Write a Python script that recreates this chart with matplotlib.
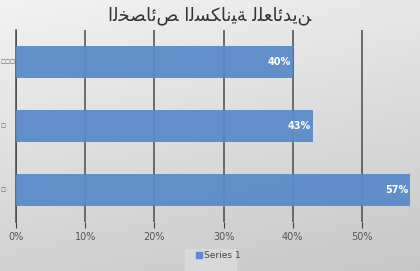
import numpy as np
import matplotlib.pyplot as plt
import matplotlib.transforms as mtransforms

# data
categories = ['\u25a1', '\u25a1', '\u25a1\u25a1\u25a1']   # bottom -> top (glyphs missing in source)
values = [0.57, 0.43, 0.40]
value_labels = ['57%', '43%', '40%']
xticks = [0, 0.1, 0.2, 0.3, 0.4, 0.5]
xtick_labels = ['0%', '10%', '20%', '30%', '40%', '50%']

# title: "الخصائص السكانية للعائدين" as shaped glyphs, drawn left-to-right like the source
title = ('\ufe8d\ufedf\ufea8\ufebc\ufe8e\ufe8b\ufeba '
         '\ufe8d\ufedf\ufeb4\ufedc\ufe8e\ufee7\ufef4\ufe94 '
         '\ufedf\ufee0\ufecc\ufe8e\ufe8b\ufeaa\ufef3\ufee6')

W, H = 420, 271
fig = plt.figure(figsize=(W / 100, H / 100), dpi=100)

# gradient background
bg = fig.add_axes([0, 0, 1, 1], zorder=-10)
yy, xx = np.mgrid[0:1:200j, 0:1:300j]
g = 0.95 - 0.17 * (0.75 * yy + 0.25 * xx)
bg.imshow(np.dstack([g, g, g]), extent=[0, 1, 0, 1], aspect='auto', origin='upper')
bg.add_patch(plt.Rectangle((185 / W, 0), 51 / W, 22 / H, color='#d9d9d9', zorder=2))
bg.axis('off')

# plot area: x from 16px (0%) to 431px (60%), y from 30px to 222px
ax = fig.add_axes([16 / W, (H - 222) / H, 415 / W, 192 / H])
ax.patch.set_alpha(0)
y = np.arange(len(categories))
ax.barh(y, values, height=0.5, color='#5b8bc8', alpha=0.95, zorder=3)
for yi, v, lab in zip(y, values, value_labels):
    ax.text(v - 0.003, yi, lab, ha='right', va='center', color='white',
            fontsize=7, fontweight='bold', zorder=4)

ax.set_xlim(0, 0.6)
ax.set_ylim(-0.5, 2.5)
ax.set_xticks(xticks)
ax.set_xticklabels(xtick_labels, fontsize=7, color='#555555')
ax.set_yticks(y)
ax.set_yticklabels([])
ax.tick_params(axis='x', length=4, color='#444444', pad=3)
ax.tick_params(axis='y', length=0)
# category labels, left-aligned at the figure edge
trans = mtransforms.blended_transform_factory(fig.transFigure, ax.transData)
for yi, lab in zip(y, categories):
    ax.text(1 / W, yi, lab, transform=trans, ha='left', va='center',
            fontsize=3.8, color='#555555')
ax.grid(axis='x', color='#4a4a4a', linewidth=1.1, zorder=1)
for s in ['top', 'right', 'bottom']:
    ax.spines[s].set_visible(False)
ax.spines['left'].set_color('#4a4a4a')
ax.spines['left'].set_linewidth(1.1)

fig.text(0.5, 1 - 16 / H, title, ha='center', va='center', fontsize=13,
         color='#333333', family=['DejaVu Sans'])

# legend
fig.patches.append(plt.Rectangle((196 / W, (H - 258) / H), 6 / W, 6 / H,
                                 color='#5b8bc8', transform=fig.transFigure, figure=fig))
fig.text(204 / W, (H - 255) / H, 'Series 1', fontsize=6.5, color='#444444',
         ha='left', va='center')

fig.savefig('out.png', dpi=100)
